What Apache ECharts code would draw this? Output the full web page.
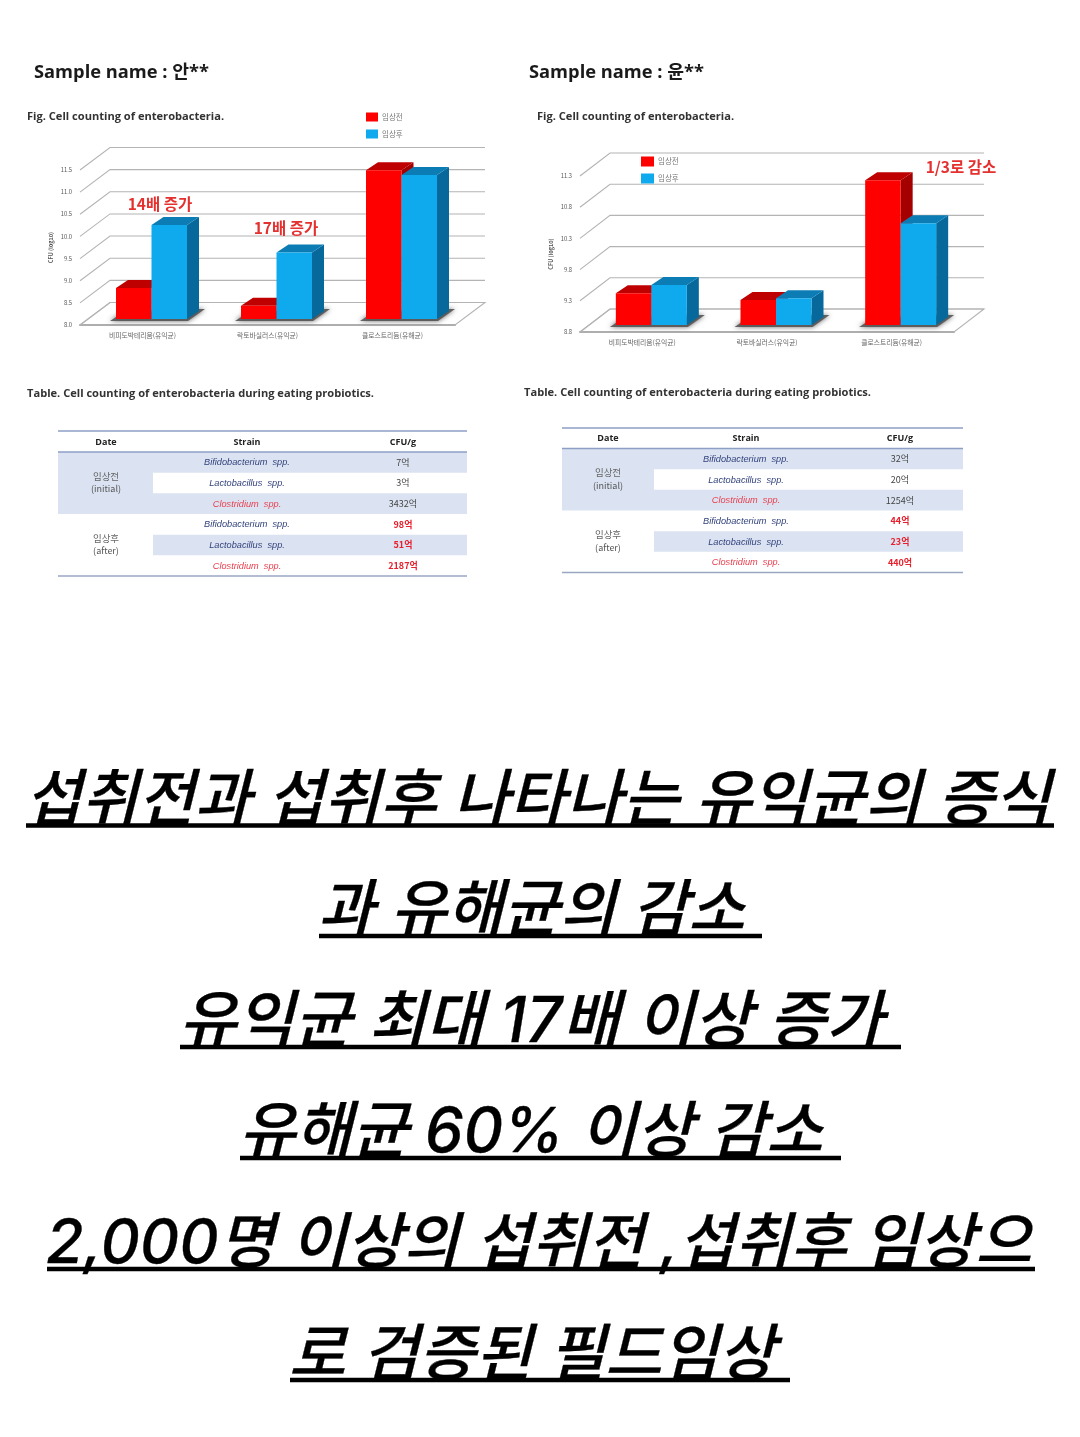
<!DOCTYPE html>
<html>
<head>
<meta charset="utf-8">
<style>html,body{margin:0;padding:0;background:#fff}#c{width:1080px;height:1437px}</style>
<script src="https://cdn.jsdelivr.net/npm/echarts@6/dist/echarts.min.js"></script>
</head>
<body>
<div id="c"></div>
<script>
const KR = '"Noto Sans CJK KR","Noto Sans",sans-serif';
const MIX = '"Open Sans","Noto Sans CJK KR",sans-serif';
const BIG = 'Inter,"Noto Sans CJK KR",sans-serif';
const categories = ['비피도박테리움(유익균)', '락토바실러스(유익균)', '클로스트리듐(유해균)'];
const seriesNames = ['임상전', '임상후'];
const ticksA = [8.0, 8.5, 9.0, 9.5, 10.0, 10.5, 11.0, 11.5];
const ticksB = [8.8, 9.3, 9.8, 10.3, 10.8, 11.3];
const beforeA = [8.7, 8.3, 11.36];
const afterA = [10.12, 9.5, 11.25];
const beforeB = [9.31, 9.2, 11.12];
const afterB = [9.44, 9.23, 10.43];

const strains = ['Bifidobacterium  spp.', 'Lactobacillus  spp.', 'Clostridium  spp.', 'Bifidobacterium  spp.', 'Lactobacillus  spp.', 'Clostridium  spp.'];
const cfuA = ['7억', '3억', '3432억', '98억', '51억', '2187억'];
const cfuB = ['32억', '20억', '1254억', '44억', '23억', '440억'];
const headers = ['Date', 'Strain', 'CFU/g'];

const bigLines = [
  '섭취전과 섭취후 나타나는 유익균의 증식',
  '과 유해균의 감소',
  '유익균 최대 17배 이상 증가',
  '유해균 60% 이상 감소',
  '2,000명 이상의 섭취전 ,섭취후 임상으',
  '로 검증된 필드임상'
];
const bigStart = [26, 319, 180, 240, 47, 290];
const bigEnd = [1054, 762, 901, 841, 1035, 790];
const bigRule = [825.5, 936, 1047, 1158, 1269, 1380];
const bigSize = [61.4, 61.2, 62.6, 61.4, 61, 61.6];

const RED = {front: '#ff0000', top: '#bf0000', side: '#a50000'};
const BLUE = {front: '#0fa9ee', top: '#0c7db4', side: '#07699b'};

function wallItem(dx, dy) {
  return function (params, api) {
    const cs = params.coordSys;
    const p = api.coord([0, api.value(1)]);
    const isFloor = api.value(2) === 1;
    const pts = isFloor
      ? [[cs.x, p[1]], [cs.x + cs.width, p[1]], [cs.x + cs.width + dx, p[1] - dy], [cs.x + dx, p[1] - dy], [cs.x, p[1]]]
      : [[cs.x, p[1]], [cs.x + dx, p[1] - dy], [cs.x + cs.width + dx, p[1] - dy]];
    return {type: 'polyline', shape: {points: pts}, silent: true,
      style: {stroke: '#b4b4b4', lineWidth: 1.1, fill: 'none'}};
  };
}
function barItem(which, col, shift, base) {
  const W = 35.5, DX = 12, DY = 8;
  return function (params, api) {
    const cat = api.value(0);
    const c = api.coord([cat, api.value(1)]);
    const z = api.coord([cat, api.value(2)]);
    const x0 = c[0] + shift - W + which * W, x1 = x0 + W;
    const yT = c[1] - base, yB = z[1] - base;
    const kids = [];
    if (which === 0) {
      const xe = x1 + W;
      kids.push({type: 'polygon', silent: true, shape: {points: [[x0 - 6, yB + 2], [xe + 1, yB + 2], [xe + 18, yB - 10], [xe + 6, yB - 10], [x0 + 6, yB - 6]]},
        style: {fill: '#555', shadowBlur: 5, shadowColor: '#555', opacity: 0.9}});
    }
    kids.push(
      {type: 'polygon', shape: {points: [[x1, yT], [x1 + DX, yT - DY], [x1 + DX, yB - DY], [x1, yB]]}, style: {fill: col.side}},
      {type: 'polygon', shape: {points: [[x0, yT], [x0 + DX, yT - DY], [x1 + DX, yT - DY], [x1, yT]]}, style: {fill: col.top}},
      {type: 'rect', shape: {x: x0, y: yT, width: W, height: yB - yT}, style: {fill: col.front}}
    );
    return {type: 'group', children: kids};
  };
}
function chartSeries(i, ticks, before, after, dx, dy, shift, base) {
  const lo = ticks[0];
  const walls = ticks.map(v => [0, v, 0]).concat([[0, lo, 1]]);
  const common = {type: 'custom', xAxisIndex: i, yAxisIndex: i, clip: false, silent: true};
  return [
    Object.assign({}, common, {name: 'wall' + i, renderItem: wallItem(dx, dy), data: walls, z: 1, encode: {x: 0, y: 1}}),
    Object.assign({}, common, {name: seriesNames[0], renderItem: barItem(0, RED, shift, base), itemStyle: {color: RED.front},
      data: before.map((v, k) => [k, v, lo]), z: 3, encode: {x: 0, y: 1}}),
    Object.assign({}, common, {name: seriesNames[1], renderItem: barItem(1, BLUE, shift, base), itemStyle: {color: BLUE.front},
      data: after.map((v, k) => [k, v, lo]), z: 4, encode: {x: 0, y: 1}})
  ];
}
function xAx(i) {
  return {type: 'category', gridIndex: i, data: categories,
    axisLine: {show: true, lineStyle: {color: '#a9a9a9', width: 2}}, axisTick: {show: false},
    axisLabel: {fontSize: 6.8, color: '#666', fontFamily: KR, margin: 7, interval: 0}, splitLine: {show: false}};
}
function yAx(i, ticks) {
  const tickLabels = ticks.map(v => v);
  return {type: 'value', gridIndex: i, min: ticks[0], max: ticks[ticks.length - 1],
    name: 'CFU (log10)', nameLocation: 'middle', nameGap: 26, nameRotate: 90,
    nameTextStyle: {fontSize: 5.5, fontWeight: 'bold', color: '#555', fontFamily: KR},
    axisLine: {show: false}, axisTick: {show: false, customValues: tickLabels}, splitLine: {show: false},
    axisLabel: {customValues: tickLabels, fontSize: 5.8, color: '#555', margin: 8, fontFamily: KR,
      formatter: v => Number(v).toFixed(1)}};
}
function txt(x, y, text, o) {
  return {type: 'text', x: x, y: y, silent: true, z: 20, style: Object.assign({
    text: text, fill: '#222', fontFamily: KR, fontSize: 10, align: 'left', verticalAlign: 'middle'}, o || {})};
}
function box(x, y, w, h, fill) {
  return {type: 'rect', silent: true, z: 5, shape: {x: x, y: y, width: w, height: h}, style: {fill: fill}};
}
function tableGraphics(t, cfu) {
  const out = [];
  const band = '#dbe3f2', rule = '#8e9fc6';
  const rh = t.rowH, R = t.x1 - t.x0;
  const yr = k => t.y1 + k * rh;
  out.push(box(t.x0, yr(0), R, 3 * rh, band));
  out.push(box(t.split, yr(1), t.x1 - t.split, rh, '#fff'));
  out.push(box(t.split, yr(4), t.x1 - t.split, rh, band));
  out.push(box(t.x0, t.y0 - 0.8, R, 1.6, rule));
  out.push(box(t.x0, t.y1 - 0.8, R, 1.6, rule));
  out.push(box(t.x0, yr(6) - 0.8, R, 1.6, '#99a6c4'));
  const cols = [t.cDate, t.cStrain, t.cCfu];
  headers.forEach((h, k) => out.push(txt(cols[k], (t.y0 + t.y1) / 2 + 0.5, h, {align: 'center', fontWeight: 'bold', fontSize: 9, fontFamily: MIX, fill: '#222'})));
  strains.forEach((s, k) => {
    const isBad = k % 3 === 2;
    out.push(txt(t.cStrain, yr(k) + rh / 2 + 0.5, s, {align: 'center', fontStyle: 'italic', fontSize: 9.2,
      fontFamily: '"Liberation Sans",sans-serif', fill: isBad ? '#e8404f' : '#33437c'}));
    const after = k >= 3;
    out.push(txt(t.cCfu, yr(k) + rh / 2, cfu[k], {align: 'center', fontSize: 9, fontWeight: after ? 'bold' : 'normal',
      fill: after ? '#e6202c' : '#444'}));
  });
  out.push(txt(t.cDate, yr(1) + rh / 2 - 7, '임상전', {align: 'center', fontSize: 9.5, fill: '#666'}));
  out.push(txt(t.cDate, yr(1) + rh / 2 + 6, '(initial)', {align: 'center', fontSize: 9, fill: '#555'}));
  out.push(txt(t.cDate, yr(4) + rh / 2 - 7, '임상후', {align: 'center', fontSize: 9.5, fill: '#666'}));
  out.push(txt(t.cDate, yr(4) + rh / 2 + 6, '(after)', {align: 'center', fontSize: 9, fill: '#555'}));
  return out;
}

const sampleStyle = {fontSize: 18.3, fontWeight: 'bold', fontFamily: MIX, fill: '#1a1a1a'};
const subStyle = {fontSize: 11.1, fontWeight: 'bold', fontFamily: MIX, fill: '#333'};
const noteStyle = {align: 'center', fontSize: 15.5, fontWeight: 'bold', fill: '#e4312f'};
const graphics = [
  txt(34, 73, 'Sample name : 안**', sampleStyle),
  txt(529, 73, 'Sample name : 윤**', sampleStyle),
  txt(27, 117, 'Fig. Cell counting of enterobacteria.', subStyle),
  txt(537, 117, 'Fig. Cell counting of enterobacteria.', subStyle),
  txt(27, 394, 'Table. Cell counting of enterobacteria during eating probiotics.', subStyle),
  txt(524, 393, 'Table. Cell counting of enterobacteria during eating probiotics.', subStyle),
  txt(160, 204, '14배 증가', noteStyle),
  txt(286, 228, '17배 증가', noteStyle),
  txt(961, 167, '1/3로 감소', noteStyle)
].concat(
  tableGraphics({x0: 58, x1: 467, split: 153, y0: 431, y1: 452, rowH: 20.67, cDate: 106, cStrain: 247, cCfu: 403}, cfuA),
  tableGraphics({x0: 562, x1: 963, split: 654, y0: 428, y1: 448.5, rowH: 20.67, cDate: 608, cStrain: 746, cCfu: 900}, cfuB)
);
bigLines.forEach((s, k) => {
  graphics.push(txt(bigStart[k] - 1, bigRule[k] - 24, s, {fontSize: bigSize[k], fontStyle: 'italic', fontWeight: 500, fontFamily: BIG,
    fill: '#000', stroke: '#000', lineWidth: 0.3}));
  graphics.push(box(bigStart[k], bigRule[k] - 2.2, bigEnd[k] - bigStart[k], 4.4, '#000'));
});

const chart = echarts.init(document.getElementById('c'), null, {width: 1080, height: 1437});
chart.setOption({
  animation: false,
  backgroundColor: '#ffffff',
  tooltip: {show: false},
  legend: [
    {data: seriesNames, left: 366, top: 112.5, orient: 'vertical', itemWidth: 12, itemHeight: 9, itemGap: 8, icon: 'rect',
      selectedMode: false, textStyle: {fontSize: 7.5, color: '#777', fontFamily: KR, padding: [0, 0, 0, -1]}, padding: 0},
    {data: seriesNames, left: 641, top: 156.5, orient: 'vertical', itemWidth: 13, itemHeight: 10, itemGap: 7, icon: 'rect',
      selectedMode: false, textStyle: {fontSize: 7.5, color: '#777', fontFamily: KR, padding: [0, 0, 0, -1]}, padding: 0}
  ],
  grid: [
    {left: 80, top: 170, width: 375, height: 155},
    {left: 580, top: 176, width: 374, height: 156}
  ],
  xAxis: [xAx(0), xAx(1)],
  yAxis: [yAx(0, ticksA), yAx(1, ticksB)],
  series: chartSeries(0, ticksA, beforeA, afterA, 30, 22.5, 9, 6)
    .concat(chartSeries(1, ticksB, beforeB, afterB, 30, 23, 9, 7)),
  graphic: {elements: graphics}
});
</script>
</body>
</html>
